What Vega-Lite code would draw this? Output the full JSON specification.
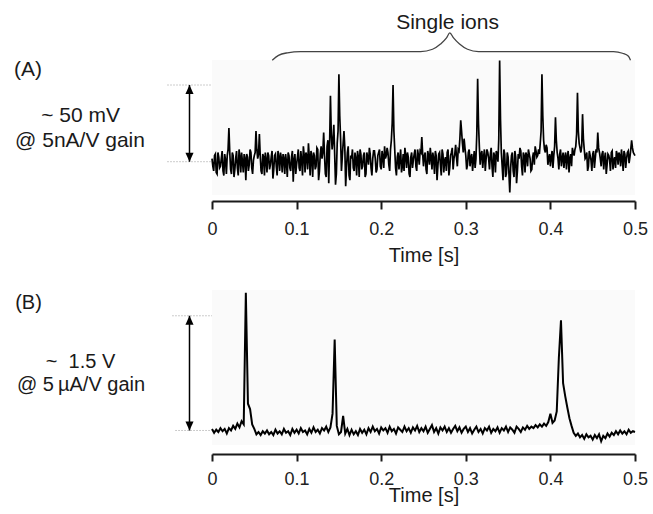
{
"$schema": "https://vega.github.io/schema/vega-lite/v6.json",
"autosize": {"type": "pad"},
"padding": {"left": 13, "top": 11, "right": 5, "bottom": 5},
"background": "white",
"bounds": "flush",
"spacing": 95,
"config": {"view": {"stroke": null, "fill": "#fafafa"}, "font": "Liberation Sans"},
"datasets": {
"traceA": [
{"t":0,"v":2},{"t":0.002,"v":-6},{"t":0.004,"v":5},{"t":0.006,"v":-8},{"t":0.008,"v":3},{"t":0.01,"v":-3},{"t":0.012,"v":7},{"t":0.014,"v":-9},{"t":0.016,"v":1},{"t":0.018,"v":4},
{"t":0.02,"v":22},{"t":0.022,"v":-5},{"t":0.024,"v":6},{"t":0.026,"v":-10},{"t":0.028,"v":2},{"t":0.03,"v":-4},{"t":0.032,"v":8},{"t":0.034,"v":-7},{"t":0.036,"v":0},{"t":0.038,"v":5},
{"t":0.04,"v":-12},{"t":0.042,"v":3},{"t":0.044,"v":-2},{"t":0.046,"v":6},{"t":0.048,"v":-8},{"t":0.05,"v":4},{"t":0.052,"v":20},{"t":0.054,"v":2},{"t":0.056,"v":18},{"t":0.058,"v":-6},
{"t":0.06,"v":5},{"t":0.062,"v":-9},{"t":0.064,"v":1},{"t":0.066,"v":6},{"t":0.068,"v":-5},{"t":0.07,"v":3},{"t":0.072,"v":-11},{"t":0.074,"v":4},{"t":0.076,"v":-3},{"t":0.078,"v":7},
{"t":0.08,"v":-6},{"t":0.082,"v":2},{"t":0.084,"v":5},{"t":0.086,"v":-8},{"t":0.088,"v":0},{"t":0.09,"v":6},{"t":0.092,"v":-4},{"t":0.094,"v":3},{"t":0.096,"v":-13},{"t":0.098,"v":5},
{"t":0.1,"v":-2},{"t":0.102,"v":8},{"t":0.104,"v":-6},{"t":0.106,"v":1},{"t":0.108,"v":10},{"t":0.11,"v":-7},{"t":0.112,"v":4},{"t":0.114,"v":12},{"t":0.116,"v":-9},{"t":0.118,"v":3},
{"t":0.12,"v":6},{"t":0.122,"v":-5},{"t":0.124,"v":9},{"t":0.126,"v":-12},{"t":0.128,"v":5},{"t":0.13,"v":2},{"t":0.132,"v":19},{"t":0.134,"v":-8},{"t":0.136,"v":10},{"t":0.138,"v":-14},
{"t":0.14,"v":43},{"t":0.142,"v":8},{"t":0.144,"v":24},{"t":0.146,"v":-15},{"t":0.148,"v":12},{"t":0.15,"v":57},{"t":0.152,"v":15},{"t":0.154,"v":3},{"t":0.156,"v":20},{"t":0.158,"v":-16},
{"t":0.16,"v":6},{"t":0.162,"v":-9},{"t":0.164,"v":4},{"t":0.166,"v":8},{"t":0.168,"v":-6},{"t":0.17,"v":2},{"t":0.172,"v":7},{"t":0.174,"v":-10},{"t":0.176,"v":5},{"t":0.178,"v":-3},
{"t":0.18,"v":6},{"t":0.182,"v":-8},{"t":0.184,"v":3},{"t":0.186,"v":9},{"t":0.188,"v":-4},{"t":0.19,"v":2},{"t":0.192,"v":7},{"t":0.194,"v":-7},{"t":0.196,"v":4},{"t":0.198,"v":8},
{"t":0.2,"v":-5},{"t":0.202,"v":3},{"t":0.204,"v":10},{"t":0.206,"v":4},{"t":0.208,"v":6},{"t":0.21,"v":-6},{"t":0.212,"v":14},{"t":0.214,"v":50},{"t":0.216,"v":8},{"t":0.218,"v":-9},
{"t":0.22,"v":6},{"t":0.222,"v":2},{"t":0.224,"v":-7},{"t":0.226,"v":5},{"t":0.228,"v":9},{"t":0.23,"v":-4},{"t":0.232,"v":3},{"t":0.234,"v":-10},{"t":0.236,"v":6},{"t":0.238,"v":1},
{"t":0.24,"v":8},{"t":0.242,"v":-6},{"t":0.244,"v":4},{"t":0.246,"v":7},{"t":0.248,"v":16},{"t":0.25,"v":-3},{"t":0.252,"v":6},{"t":0.254,"v":-8},{"t":0.256,"v":4},{"t":0.258,"v":9},
{"t":0.26,"v":-5},{"t":0.262,"v":2},{"t":0.264,"v":7},{"t":0.266,"v":-12},{"t":0.268,"v":5},{"t":0.27,"v":-2},{"t":0.272,"v":8},{"t":0.274,"v":-7},{"t":0.276,"v":3},{"t":0.278,"v":6},
{"t":0.28,"v":-9},{"t":0.282,"v":4},{"t":0.284,"v":9},{"t":0.286,"v":2},{"t":0.288,"v":11},{"t":0.29,"v":-3},{"t":0.292,"v":7},{"t":0.294,"v":27},{"t":0.296,"v":12},{"t":0.298,"v":15},
{"t":0.3,"v":4},{"t":0.302,"v":-2},{"t":0.304,"v":8},{"t":0.306,"v":3},{"t":0.308,"v":-6},{"t":0.31,"v":7},{"t":0.312,"v":2},{"t":0.314,"v":54},{"t":0.316,"v":10},{"t":0.318,"v":5},
{"t":0.32,"v":-4},{"t":0.322,"v":8},{"t":0.324,"v":2},{"t":0.326,"v":6},{"t":0.328,"v":-5},{"t":0.33,"v":9},{"t":0.332,"v":-10},{"t":0.334,"v":4},{"t":0.336,"v":7},{"t":0.338,"v":0},
{"t":0.34,"v":66},{"t":0.342,"v":6},{"t":0.344,"v":-12},{"t":0.346,"v":5},{"t":0.348,"v":-8},{"t":0.35,"v":3},{"t":0.352,"v":-20},{"t":0.354,"v":4},{"t":0.356,"v":-6},{"t":0.358,"v":7},
{"t":0.36,"v":-14},{"t":0.362,"v":5},{"t":0.364,"v":9},{"t":0.366,"v":-3},{"t":0.368,"v":6},{"t":0.37,"v":-7},{"t":0.372,"v":4},{"t":0.374,"v":8},{"t":0.376,"v":2},{"t":0.378,"v":-5},
{"t":0.38,"v":6},{"t":0.382,"v":10},{"t":0.384,"v":3},{"t":0.386,"v":8},{"t":0.388,"v":12},{"t":0.39,"v":57},{"t":0.392,"v":14},{"t":0.394,"v":6},{"t":0.396,"v":9},{"t":0.398,"v":2},
{"t":0.4,"v":-3},{"t":0.402,"v":7},{"t":0.404,"v":4},{"t":0.406,"v":29},{"t":0.408,"v":6},{"t":0.41,"v":-5},{"t":0.412,"v":8},{"t":0.414,"v":2},{"t":0.416,"v":-4},{"t":0.418,"v":6},
{"t":0.42,"v":3},{"t":0.422,"v":-7},{"t":0.424,"v":5},{"t":0.426,"v":9},{"t":0.428,"v":4},{"t":0.43,"v":10},{"t":0.432,"v":45},{"t":0.434,"v":12},{"t":0.436,"v":6},{"t":0.438,"v":31},
{"t":0.44,"v":8},{"t":0.442,"v":3},{"t":0.444,"v":-6},{"t":0.446,"v":7},{"t":0.448,"v":1},{"t":0.45,"v":5},{"t":0.452,"v":-4},{"t":0.454,"v":8},{"t":0.456,"v":19},{"t":0.458,"v":6},
{"t":0.46,"v":-3},{"t":0.462,"v":7},{"t":0.464,"v":2},{"t":0.466,"v":-8},{"t":0.468,"v":5},{"t":0.47,"v":1},{"t":0.472,"v":6},{"t":0.474,"v":-5},{"t":0.476,"v":3},{"t":0.478,"v":7},
{"t":0.48,"v":-2},{"t":0.482,"v":4},{"t":0.484,"v":8},{"t":0.486,"v":-6},{"t":0.488,"v":5},{"t":0.49,"v":2},{"t":0.492,"v":7},{"t":0.494,"v":3},{"t":0.496,"v":14},{"t":0.498,"v":6},
{"t":0.5,"v":4},
{"t":0.001,"v":-3},{"t":0.003,"v":4},{"t":0.005,"v":-7},{"t":0.007,"v":6},{"t":0.009,"v":-4},{"t":0.011,"v":2},{"t":0.013,"v":-6},{"t":0.015,"v":5},{"t":0.017,"v":-8},{"t":0.019,"v":8},
{"t":0.021,"v":6},{"t":0.023,"v":-8},{"t":0.025,"v":4},{"t":0.027,"v":-5},{"t":0.029,"v":7},{"t":0.031,"v":-9},{"t":0.033,"v":3},{"t":0.035,"v":6},{"t":0.037,"v":-7},{"t":0.039,"v":2},
{"t":0.041,"v":5},{"t":0.043,"v":-6},{"t":0.045,"v":8},{"t":0.047,"v":-4},{"t":0.049,"v":1},{"t":0.051,"v":6},{"t":0.053,"v":8},{"t":0.055,"v":5},{"t":0.057,"v":4},{"t":0.059,"v":-8},
{"t":0.061,"v":3},{"t":0.063,"v":6},{"t":0.065,"v":-7},{"t":0.067,"v":4},{"t":0.069,"v":-2},{"t":0.071,"v":7},{"t":0.073,"v":-5},{"t":0.075,"v":5},{"t":0.077,"v":-9},{"t":0.079,"v":3},
{"t":0.081,"v":6},{"t":0.083,"v":-7},{"t":0.085,"v":2},{"t":0.087,"v":5},{"t":0.089,"v":-10},{"t":0.091,"v":4},{"t":0.093,"v":-6},{"t":0.095,"v":7},{"t":0.097,"v":1},{"t":0.099,"v":-8},
{"t":0.101,"v":3},{"t":0.103,"v":-4},{"t":0.105,"v":7},{"t":0.107,"v":-9},{"t":0.109,"v":4},{"t":0.111,"v":6},{"t":0.113,"v":-5},{"t":0.115,"v":3},{"t":0.117,"v":7},{"t":0.119,"v":-10},
{"t":0.121,"v":4},{"t":0.123,"v":-3},{"t":0.125,"v":8},{"t":0.127,"v":-6},{"t":0.129,"v":10},{"t":0.131,"v":6},{"t":0.133,"v":4},{"t":0.135,"v":-10},{"t":0.137,"v":14},{"t":0.139,"v":10},
{"t":0.141,"v":18},{"t":0.143,"v":14},{"t":0.145,"v":5},{"t":0.147,"v":-8},{"t":0.149,"v":20},{"t":0.151,"v":30},{"t":0.153,"v":-6},{"t":0.155,"v":12},{"t":0.157,"v":9},{"t":0.159,"v":-4},
{"t":0.161,"v":10},{"t":0.163,"v":-12},{"t":0.165,"v":2},{"t":0.167,"v":-4},{"t":0.169,"v":6},{"t":0.171,"v":-9},{"t":0.173,"v":3},{"t":0.175,"v":8},{"t":0.177,"v":-5},{"t":0.179,"v":4},
{"t":0.181,"v":-10},{"t":0.183,"v":6},{"t":0.185,"v":-2},{"t":0.187,"v":5},{"t":0.189,"v":-9},{"t":0.191,"v":7},{"t":0.193,"v":2},{"t":0.195,"v":-5},{"t":0.197,"v":6},{"t":0.199,"v":-3},
{"t":0.201,"v":7},{"t":0.203,"v":-4},{"t":0.205,"v":2},{"t":0.207,"v":9},{"t":0.209,"v":-2},{"t":0.211,"v":8},{"t":0.213,"v":25},{"t":0.215,"v":20},{"t":0.217,"v":-4},{"t":0.219,"v":3},
{"t":0.221,"v":-5},{"t":0.223,"v":8},{"t":0.225,"v":-3},{"t":0.227,"v":-6},{"t":0.229,"v":4},{"t":0.231,"v":6},{"t":0.233,"v":-8},{"t":0.235,"v":3},{"t":0.237,"v":-4},{"t":0.239,"v":5},
{"t":0.241,"v":-3},{"t":0.243,"v":8},{"t":0.245,"v":-2},{"t":0.247,"v":6},{"t":0.249,"v":5},{"t":0.251,"v":4},{"t":0.253,"v":-5},{"t":0.255,"v":7},{"t":0.257,"v":-2},{"t":0.259,"v":3},
{"t":0.261,"v":6},{"t":0.263,"v":-8},{"t":0.265,"v":4},{"t":0.267,"v":-3},{"t":0.269,"v":6},{"t":0.271,"v":-9},{"t":0.273,"v":5},{"t":0.275,"v":1},{"t":0.277,"v":-6},{"t":0.279,"v":8},
{"t":0.281,"v":-4},{"t":0.283,"v":6},{"t":0.285,"v":-5},{"t":0.287,"v":5},{"t":0.289,"v":3},{"t":0.291,"v":8},{"t":0.293,"v":15},{"t":0.295,"v":20},{"t":0.297,"v":6},{"t":0.299,"v":9},
{"t":0.301,"v":-5},{"t":0.303,"v":6},{"t":0.305,"v":-3},{"t":0.307,"v":5},{"t":0.309,"v":1},{"t":0.311,"v":-4},{"t":0.313,"v":18},{"t":0.315,"v":25},{"t":0.317,"v":-2},{"t":0.319,"v":7},
{"t":0.321,"v":3},{"t":0.323,"v":-6},{"t":0.325,"v":8},{"t":0.327,"v":2},{"t":0.329,"v":5},{"t":0.331,"v":-3},{"t":0.333,"v":6},{"t":0.335,"v":-7},{"t":0.337,"v":5},{"t":0.339,"v":15},
{"t":0.341,"v":28},{"t":0.343,"v":-3},{"t":0.345,"v":8},{"t":0.347,"v":-10},{"t":0.349,"v":6},{"t":0.351,"v":-8},{"t":0.353,"v":-4},{"t":0.355,"v":6},{"t":0.357,"v":-10},{"t":0.359,"v":3},
{"t":0.361,"v":-6},{"t":0.363,"v":2},{"t":0.365,"v":7},{"t":0.367,"v":-9},{"t":0.369,"v":4},{"t":0.371,"v":6},{"t":0.373,"v":-3},{"t":0.375,"v":5},{"t":0.377,"v":-6},{"t":0.379,"v":3},
{"t":0.381,"v":-2},{"t":0.383,"v":7},{"t":0.385,"v":4},{"t":0.387,"v":5},{"t":0.389,"v":20},{"t":0.391,"v":30},{"t":0.393,"v":8},{"t":0.395,"v":11},{"t":0.397,"v":-2},{"t":0.399,"v":5},
{"t":0.401,"v":3},{"t":0.403,"v":-4},{"t":0.405,"v":10},{"t":0.407,"v":14},{"t":0.409,"v":2},{"t":0.411,"v":5},{"t":0.413,"v":-3},{"t":0.415,"v":6},{"t":0.417,"v":3},{"t":0.419,"v":-5},
{"t":0.421,"v":7},{"t":0.423,"v":2},{"t":0.425,"v":-3},{"t":0.427,"v":6},{"t":0.429,"v":8},{"t":0.431,"v":18},{"t":0.433,"v":20},{"t":0.435,"v":9},{"t":0.437,"v":10},{"t":0.439,"v":15},
{"t":0.441,"v":2},{"t":0.443,"v":6},{"t":0.445,"v":-3},{"t":0.447,"v":4},{"t":0.449,"v":-6},{"t":0.451,"v":7},{"t":0.453,"v":2},{"t":0.455,"v":6},{"t":0.457,"v":9},{"t":0.459,"v":2},
{"t":0.461,"v":5},{"t":0.463,"v":-5},{"t":0.465,"v":6},{"t":0.467,"v":-2},{"t":0.469,"v":4},{"t":0.471,"v":-6},{"t":0.473,"v":7},{"t":0.475,"v":1},{"t":0.477,"v":-4},{"t":0.479,"v":5},
{"t":0.481,"v":6},{"t":0.483,"v":-3},{"t":0.485,"v":2},{"t":0.487,"v":7},{"t":0.489,"v":-4},{"t":0.491,"v":6},{"t":0.493,"v":-1},{"t":0.495,"v":8},{"t":0.497,"v":9},{"t":0.499,"v":5}
],
"traceB": [
{"t":0,"v":0.02},{"t":0.0025,"v":-0.03},{"t":0.005,"v":0.01},{"t":0.0075,"v":-0.02},{"t":0.01,"v":0.03},{"t":0.0125,"v":-0.01},{"t":0.015,"v":0.02},{"t":0.0175,"v":-0.04},{"t":0.02,"v":0.03},{"t":0.0225,"v":0},
{"t":0.025,"v":0.06},{"t":0.0275,"v":0.02},{"t":0.03,"v":0.09},{"t":0.0325,"v":0.04},{"t":0.035,"v":0.12},{"t":0.0375,"v":0.08},{"t":0.04,"v":1.8},{"t":0.0425,"v":0.35},{"t":0.045,"v":0.28},{"t":0.0475,"v":0.08},
{"t":0.05,"v":0.02},{"t":0.0525,"v":-0.05},{"t":0.055,"v":-0.02},{"t":0.0575,"v":-0.06},{"t":0.06,"v":-0.01},{"t":0.0625,"v":-0.04},{"t":0.065,"v":0},{"t":0.0675,"v":-0.05},{"t":0.07,"v":-0.02},{"t":0.0725,"v":-0.06},
{"t":0.075,"v":0.01},{"t":0.0775,"v":-0.04},{"t":0.08,"v":-0.01},{"t":0.0825,"v":-0.05},{"t":0.085,"v":0.02},{"t":0.0875,"v":-0.03},{"t":0.09,"v":-0.01},{"t":0.0925,"v":-0.06},{"t":0.095,"v":0.02},{"t":0.0975,"v":-0.03},
{"t":0.1,"v":0.01},{"t":0.1025,"v":-0.04},{"t":0.105,"v":0.03},{"t":0.1075,"v":-0.02},{"t":0.11,"v":0},{"t":0.1125,"v":-0.05},{"t":0.115,"v":0.02},{"t":0.1175,"v":-0.03},{"t":0.12,"v":0.04},{"t":0.1225,"v":-0.02},
{"t":0.125,"v":0.01},{"t":0.1275,"v":-0.04},{"t":0.13,"v":0.03},{"t":0.1325,"v":0},{"t":0.135,"v":0.05},{"t":0.1375,"v":-0.02},{"t":0.14,"v":0.04},{"t":0.1425,"v":0.22},{"t":0.145,"v":1.19},{"t":0.1475,"v":0.06},
{"t":0.15,"v":-0.05},{"t":0.1525,"v":-0.02},{"t":0.155,"v":0.19},{"t":0.1575,"v":-0.04},{"t":0.16,"v":0.02},{"t":0.1625,"v":-0.06},{"t":0.165,"v":0.01},{"t":0.1675,"v":-0.05},{"t":0.17,"v":-0.01},{"t":0.1725,"v":-0.06},
{"t":0.175,"v":0.02},{"t":0.1775,"v":-0.03},{"t":0.18,"v":0.01},{"t":0.1825,"v":-0.05},{"t":0.185,"v":0.03},{"t":0.1875,"v":-0.02},{"t":0.19,"v":0.05},{"t":0.1925,"v":-0.01},{"t":0.195,"v":0.02},{"t":0.1975,"v":-0.04},
{"t":0.2,"v":0.04},{"t":0.2025,"v":0},{"t":0.205,"v":0.03},{"t":0.2075,"v":-0.03},{"t":0.21,"v":0.05},{"t":0.2125,"v":-0.01},{"t":0.215,"v":0.02},{"t":0.2175,"v":-0.04},{"t":0.22,"v":0.04},{"t":0.2225,"v":0.01},
{"t":0.225,"v":-0.02},{"t":0.2275,"v":0.05},{"t":0.23,"v":-0.01},{"t":0.2325,"v":0.03},{"t":0.235,"v":-0.03},{"t":0.2375,"v":0.04},{"t":0.24,"v":0},{"t":0.2425,"v":0.06},{"t":0.245,"v":-0.02},{"t":0.2475,"v":0.03},
{"t":0.25,"v":-0.01},{"t":0.2525,"v":0.05},{"t":0.255,"v":-0.03},{"t":0.2575,"v":0.02},{"t":0.26,"v":0.07},{"t":0.2625,"v":-0.02},{"t":0.265,"v":0.03},{"t":0.2675,"v":-0.04},{"t":0.27,"v":0.04},{"t":0.2725,"v":0},
{"t":0.275,"v":0.05},{"t":0.2775,"v":-0.02},{"t":0.28,"v":0.03},{"t":0.2825,"v":-0.03},{"t":0.285,"v":0.02},{"t":0.2875,"v":0.06},{"t":0.29,"v":-0.01},{"t":0.2925,"v":0.04},{"t":0.295,"v":-0.03},{"t":0.2975,"v":0.02},
{"t":0.3,"v":0.05},{"t":0.3025,"v":-0.02},{"t":0.305,"v":0.03},{"t":0.3075,"v":-0.04},{"t":0.31,"v":0.01},{"t":0.3125,"v":0.05},{"t":0.315,"v":-0.02},{"t":0.3175,"v":0.02},{"t":0.32,"v":-0.04},{"t":0.3225,"v":0.03},
{"t":0.325,"v":0},{"t":0.3275,"v":0.05},{"t":0.33,"v":-0.03},{"t":0.3325,"v":0.02},{"t":0.335,"v":-0.01},{"t":0.3375,"v":0.04},{"t":0.34,"v":-0.03},{"t":0.3425,"v":0.03},{"t":0.345,"v":0},{"t":0.3475,"v":0.05},
{"t":0.35,"v":-0.02},{"t":0.3525,"v":0.04},{"t":0.355,"v":0.01},{"t":0.3575,"v":-0.03},{"t":0.36,"v":0.05},{"t":0.3625,"v":0.02},{"t":0.365,"v":-0.02},{"t":0.3675,"v":0.04},{"t":0.37,"v":0.01},{"t":0.3725,"v":0.06},
{"t":0.375,"v":0.02},{"t":0.3775,"v":0.05},{"t":0.38,"v":0.03},{"t":0.3825,"v":0.07},{"t":0.385,"v":0.04},{"t":0.3875,"v":0.08},{"t":0.39,"v":0.05},{"t":0.3925,"v":0.09},{"t":0.395,"v":0.06},{"t":0.3975,"v":0.11},
{"t":0.4,"v":0.22},{"t":0.4025,"v":0.1},{"t":0.405,"v":0.13},{"t":0.4075,"v":0.25},{"t":0.41,"v":0.95},{"t":0.4125,"v":1.44},{"t":0.415,"v":0.62},{"t":0.4175,"v":0.45},{"t":0.42,"v":0.3},{"t":0.4225,"v":0.16},
{"t":0.425,"v":0.06},{"t":0.4275,"v":-0.03},{"t":0.43,"v":-0.07},{"t":0.4325,"v":-0.04},{"t":0.435,"v":-0.09},{"t":0.4375,"v":-0.06},{"t":0.44,"v":-0.11},{"t":0.4425,"v":-0.05},{"t":0.445,"v":-0.09},{"t":0.4475,"v":-0.07},
{"t":0.45,"v":-0.12},{"t":0.4525,"v":-0.06},{"t":0.455,"v":-0.1},{"t":0.4575,"v":-0.05},{"t":0.46,"v":-0.14},{"t":0.4625,"v":-0.07},{"t":0.465,"v":-0.1},{"t":0.4675,"v":-0.04},{"t":0.47,"v":-0.08},{"t":0.4725,"v":-0.03},
{"t":0.475,"v":-0.06},{"t":0.4775,"v":-0.01},{"t":0.48,"v":-0.05},{"t":0.4825,"v":0},{"t":0.485,"v":-0.04},{"t":0.4875,"v":-0.01},{"t":0.49,"v":-0.05},{"t":0.4925,"v":0.01},{"t":0.495,"v":-0.03},{"t":0.4975,"v":-0.01},
{"t":0.5,"v":-0.02}
],
"textA": [
{"t":-0.2175,"v":59.8,"label":"(A)"},
{"t":-0.1554,"v":30.1,"label":"~ 50 mV"},
{"t":-0.156,"v":13.8,"label":"@ 5nA/V gain"},
{"t":0.2784,"v":90.5,"label":"Single ions"}
],
"textB": [
{"t":-0.2169,"v":1.667,"label":"(B)"},
{"t":-0.1554,"v":0.9,"label":"~\u00a0\u00a01.5 V"},
{"t":-0.1548,"v":0.595,"label":"@ 5\u2009µA/V gain"}
],
"dotA": [{"t":-0.0526,"t2":0,"v":50},{"t":-0.0526,"t2":0,"v":0}],
"dotB": [{"t":-0.0467,"t2":0,"v":1.5},{"t":-0.0431,"t2":0,"v":0}],
"arrowA": [{"t":-0.0266,"v":0,"v2":50}],
"arrowB": [{"t":-0.0266,"v":0,"v2":1.5}],
"brace": [
{"t":0.0712,"v":66.2},{"t":0.0786,"v":69.3},{"t":0.0892,"v":71.0},{"t":0.1046,"v":71.8},{"t":0.2465,"v":71.8},{"t":0.2607,"v":73.3},{"t":0.2701,"v":76.7},{"t":0.2772,"v":80.7},{"t":0.2811,"v":84},{"t":0.2855,"v":80.7},{"t":0.2926,"v":76.7},{"t":0.302,"v":73.3},{"t":0.315,"v":71.8},{"t":0.4746,"v":71.8},{"t":0.4852,"v":70.7},{"t":0.4923,"v":68.7},{"t":0.4947,"v":66.2}
]
},
"vconcat": [
{
"width": 423, "height": 135,
"encoding": {
"x": {"field": "t", "type": "quantitative", "scale": {"domain": [0, 0.5], "nice": false, "zero": false},
 "axis": {"title": "Time [s]", "values": [0, 0.1, 0.2, 0.3, 0.4, 0.5], "format": "~g", "offset": 6, "grid": false,
  "domainColor": "#1a1a1a", "domainWidth": 2, "tickColor": "#1a1a1a", "tickWidth": 2, "tickSize": 8,
  "labelPadding": 11, "labelFontSize": 18, "labelColor": "#222", "labelFlush": false, "labelOverlap": false,
  "titleFontSize": 20, "titleFontWeight": "normal", "titleColor": "#1a1a1a", "titleY": 60, "titleBaseline": "alphabetic"}},
"y": {"field": "v", "type": "quantitative", "scale": {"domain": [-21.7, 66.3], "nice": false, "zero": false}, "axis": null}
},
"layer": [
{"data": {"name": "traceA"}, "mark": {"type": "line", "color": "#000", "strokeWidth": 1.7}},
{"data": {"name": "brace"}, "mark": {"type": "line", "color": "#444", "strokeWidth": 1.3, "interpolate": "monotone"}},
{"data": {"name": "dotA"}, "mark": {"type": "rule", "color": "#999", "strokeWidth": 1, "strokeDash": [1, 2]}, "encoding": {"x2": {"field": "t2"}}},
{"data": {"name": "arrowA"}, "mark": {"type": "rule", "color": "#000", "strokeWidth": 1.5}, "encoding": {"y2": {"field": "v2"}}},
{"data": {"name": "arrowA"}, "mark": {"type": "point", "filled": true, "color": "#000", "opacity": 1, "size": 324, "shape": "M0,0L-0.45,1L0.45,1Z"}, "encoding": {"y": {"field": "v2", "type": "quantitative"}}},
{"data": {"name": "arrowA"}, "mark": {"type": "point", "filled": true, "color": "#000", "opacity": 1, "size": 324, "shape": "M0,0L-0.45,-1L0.45,-1Z"}},
{"data": {"name": "textA"}, "mark": {"type": "text", "fontSize": 21, "color": "#1a1a1a", "align": "center", "baseline": "middle"}, "encoding": {"text": {"field": "label"}}}
]
},
{
"width": 423, "height": 155,
"encoding": {
"x": {"field": "t", "type": "quantitative", "scale": {"domain": [0, 0.5], "nice": false, "zero": false},
 "axis": {"title": "Time [s]", "values": [0, 0.1, 0.2, 0.3, 0.4, 0.5], "format": "~g", "offset": 9, "grid": false,
  "domainColor": "#1a1a1a", "domainWidth": 2, "tickColor": "#1a1a1a", "tickWidth": 2, "tickSize": 7,
  "labelPadding": 9, "labelFontSize": 18, "labelColor": "#222", "labelFlush": false, "labelOverlap": false,
  "titleFontSize": 20, "titleFontWeight": "normal", "titleColor": "#1a1a1a", "titleY": 47, "titleBaseline": "alphabetic"}},
"y": {"field": "v", "type": "quantitative", "scale": {"domain": [-0.19, 1.837], "nice": false, "zero": false}, "axis": null}
},
"layer": [
{"data": {"name": "traceB"}, "mark": {"type": "line", "color": "#000", "strokeWidth": 2}},
{"data": {"name": "dotB"}, "mark": {"type": "rule", "color": "#999", "strokeWidth": 1, "strokeDash": [1, 2]}, "encoding": {"x2": {"field": "t2"}}},
{"data": {"name": "arrowB"}, "mark": {"type": "rule", "color": "#000", "strokeWidth": 1.5}, "encoding": {"y2": {"field": "v2"}}},
{"data": {"name": "arrowB"}, "mark": {"type": "point", "filled": true, "color": "#000", "opacity": 1, "size": 324, "shape": "M0,0L-0.45,1L0.45,1Z"}, "encoding": {"y": {"field": "v2", "type": "quantitative"}}},
{"data": {"name": "arrowB"}, "mark": {"type": "point", "filled": true, "color": "#000", "opacity": 1, "size": 324, "shape": "M0,0L-0.45,-1L0.45,-1Z"}},
{"data": {"name": "textB"}, "mark": {"type": "text", "fontSize": 20, "color": "#1a1a1a", "align": "center", "baseline": "middle"}, "encoding": {"text": {"field": "label"}}}
]
}
]
}
